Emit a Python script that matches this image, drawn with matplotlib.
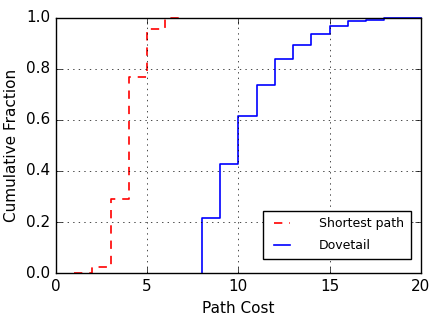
import numpy as np
import matplotlib
matplotlib.use('Agg')
import matplotlib.pyplot as plt

# cumulative fractions
shortest_x = [1, 2, 3, 4, 5, 6, 7]
shortest_y = [0.0, 0.025, 0.29, 0.77, 0.955, 1.0, 1.0]

dovetail_x = [8, 8, 9, 10, 11, 12, 13, 14, 15, 16, 17, 18, 20]
dovetail_y = [0.0, 0.216, 0.427, 0.616, 0.735, 0.84, 0.894, 0.936, 0.967, 0.986, 0.993, 1.0, 1.0]

plt.style.use('classic')
plt.rcParams['font.size'] = 11

fig = plt.figure(figsize=(4.43, 3.19), dpi=100)
ax = fig.add_axes([0.126, 0.144, 0.824, 0.8])

ax.step(shortest_x, shortest_y, where='post', color='red', linestyle='--',
        dashes=(6, 5), linewidth=1.2, label='Shortest path', clip_on=False)
ax.step(dovetail_x, dovetail_y, where='post', color='blue', linestyle='-',
        linewidth=1.2, label='Dovetail', clip_on=False)

ax.set_xlim(0, 20)
ax.set_ylim(0, 1.0)
ax.set_xticks([0, 5, 10, 15, 20])
ax.set_yticks([0.0, 0.2, 0.4, 0.6, 0.8, 1.0])
ax.set_xlabel('Path Cost')
ax.set_ylabel('Cumulative Fraction')
ax.grid(True, color='black', linestyle=':')
ax.legend(loc='lower right', bbox_to_anchor=(0.973, 0.055), fontsize=9,
          handlelength=1.9, handletextpad=2.0, labelspacing=0.7,
          borderpad=0.55, borderaxespad=0)

fig.savefig('out.png', dpi=100)
